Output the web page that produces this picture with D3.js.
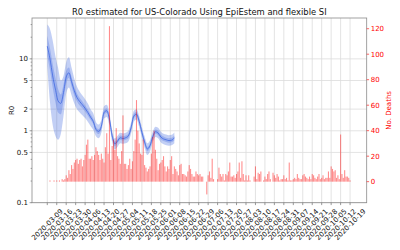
<!DOCTYPE html>
<html><head><meta charset="utf-8">
<script src="https://cdn.jsdelivr.net/npm/d3@7"></script>
<style>body{margin:0;background:#fff}svg{display:block;font-family:"DejaVu Sans",sans-serif}</style>
</head><body>
<svg id="c" width="400" height="250"></svg>
<script>
const title = "R0 estimated for US-Colorado Using EpiEstem and flexible SI";
const xTickLabels = ["2020-03-09","2020-03-16","2020-03-23","2020-03-30","2020-04-06","2020-04-13","2020-04-20","2020-04-27","2020-05-04","2020-05-11","2020-05-18","2020-05-25","2020-06-01","2020-06-08","2020-06-15","2020-06-22","2020-06-29","2020-07-06","2020-07-13","2020-07-20","2020-07-27","2020-08-03","2020-08-10","2020-08-17","2020-08-24","2020-08-31","2020-09-07","2020-09-14","2020-09-21","2020-09-28","2020-10-05","2020-10-12","2020-10-19"];
const leftTicks = [0.1,0.5,1,2,5,10];
const leftTickLabels = ["0.1","0.5","1","2","5","10"];
const leftMinor = [0.2,0.3,0.4,0.6,0.7,0.8,0.9,3,4,6,7,8,9,20,30];
const rightTicks = [0,20,40,60,80,100,120];

// R0 estimates, every 2 days from 2020-03-09
const rStart = "2020-03-09";
const rStepDays = 2;
const rMean = [15,10,5.8,3.8,2.6,2.4,3.4,5.6,6.4,4.8,3.6,2.9,2.55,2.3,2.05,1.8,1.55,1.35,1.05,0.98,1.15,1.8,1.9,1.45,0.85,0.66,0.72,0.8,0.78,0.8,0.85,1.1,1.6,1.7,1.35,0.95,0.7,0.56,0.62,0.82,0.97,0.93,0.82,0.77,0.75,0.73,0.74,0.8];
const rLo50 = [11,7,4.0,2.5,1.8,1.7,2.6,4.5,5.4,4.1,3.1,2.55,2.25,2.05,1.85,1.63,1.42,1.24,0.97,0.9,1.06,1.67,1.77,1.35,0.79,0.61,0.67,0.75,0.73,0.75,0.79,1.02,1.49,1.59,1.26,0.89,0.65,0.52,0.58,0.76,0.91,0.87,0.76,0.72,0.7,0.68,0.69,0.74];
const rHi50 = [21,14,8.5,5.5,3.8,3.2,4.4,6.8,7.6,5.6,4.1,3.3,2.85,2.55,2.25,1.97,1.7,1.47,1.14,1.06,1.25,1.95,2.05,1.56,0.92,0.71,0.77,0.86,0.84,0.86,0.91,1.18,1.72,1.82,1.45,1.02,0.75,0.6,0.67,0.88,1.04,1.0,0.88,0.83,0.8,0.79,0.8,0.86];
const rLo95 = [8,2.5,1.2,0.85,0.75,0.9,1.6,3.3,4.0,3.1,2.4,2.0,1.8,1.65,1.5,1.34,1.17,1.03,0.84,0.79,0.94,1.48,1.56,1.19,0.7,0.55,0.6,0.67,0.66,0.67,0.71,0.92,1.34,1.43,1.13,0.8,0.58,0.46,0.52,0.69,0.82,0.79,0.69,0.65,0.63,0.62,0.63,0.67];
const rHi95 = [30,26,18,11,7.5,5.0,5.8,9.0,10.5,7.5,5.3,4.1,3.5,3.1,2.75,2.4,2.0,1.75,1.33,1.22,1.42,2.2,2.3,1.75,1.02,0.78,0.85,0.94,0.92,0.94,1.0,1.3,1.9,2.0,1.6,1.12,0.83,0.67,0.74,0.97,1.14,1.1,0.97,0.91,0.89,0.87,0.88,0.95];

// daily deaths from 2020-03-11
const deathStart = "2020-03-11";
const deaths = [1,0,0,1,0,1,0,1,0,2, 1,2,5,3,9,6,13,10,15,17, 18,14,17,18,12,17,21,29,33,18, 18,20,17,21,27,24,21,17,22,18,
 15,27,38,22,122,17,28,33,25,42, 20,18,14,24,52,14,14,10,13,18, 10,16,24,33,64,40,30,22,21,33, 13,11,8,10,12,22,35,40,25,18,
 9,14,15,17,20,12,8,12,10,17, 20,6,12,10,8,5,13,14,6,6, 5,4,8,13,10,6,4,4,8,6, 5,
 6,4,4,0,0,-10,5,8,3,18, 2,0,0,2,11,6,4,6,1,6, 5,8,15,4,4,5,3,6,8,15, 3,16,6,1,5,1,5,1,0,0,
 4,12,2,7,6,8,0,1,4,2, 6,8,2,0,7,5,3,6,4,1, 2,2,5,2,3,1,15,1,1,2, 3,2,6,3,2,2,5,6,4,3,
 2,4,2,6,5,3,2,4,6,2, 3,5,2,3,3,8,3,12,10,8, 9,3,5,2,37,6,3,9,4,4, 3,1];

const DAY = 864e5;
const parse = d3.utcParse("%Y-%m-%d");
const svg = d3.select("#c");
const L = 32, R = 366.7, T = 18, B = 202.7;

const x = d3.scaleUtc().domain([new Date(parse("2020-03-09").getTime() - 11.3*DAY), new Date(parse("2020-10-19").getTime() + 12.3*DAY)]).range([L, R]);
const yL = d3.scaleLog().domain([0.1, 37]).range([B, T]);
const yR = d3.scaleLinear().domain([-16.5, 128.4]).range([B, T]);

const tickDates = xTickLabels.map(parse);
const rData = rMean.map((m,i)=>({date:new Date(parse(rStart).getTime()+i*rStepDays*DAY), m, lo50:rLo50[i], hi50:rHi50[i], lo95:rLo95[i], hi95:rHi95[i]}));
const dData = deaths.map((v,i)=>({date:new Date(parse(deathStart).getTime()+i*DAY), v}));

// grid
const g = svg.append("g");
g.selectAll(".vg").data(tickDates).join("line").attr("x1",d=>x(d)).attr("x2",d=>x(d)).attr("y1",T).attr("y2",B).attr("stroke","#dcdcdc").attr("stroke-width",0.8);
g.selectAll(".hg").data(leftTicks).join("line").attr("x1",L).attr("x2",R).attr("y1",d=>yL(d)).attr("y2",d=>yL(d)).attr("stroke","#dcdcdc").attr("stroke-width",0.8);

// R0 bands
svg.append("clipPath").attr("id","clip").append("rect").attr("x",L).attr("y",T).attr("width",R-L).attr("height",B-T);
const pg = svg.append("g").attr("clip-path","url(#clip)");
const curve = d3.curveMonotoneX;
pg.append("path").datum(rData).attr("d", d3.area().x(d=>x(d.date)).y0(d=>yL(d.lo95)).y1(d=>yL(d.hi95)).curve(curve)).attr("fill","royalblue").attr("fill-opacity",0.32);
pg.append("path").datum(rData).attr("d", d3.area().x(d=>x(d.date)).y0(d=>yL(d.lo50)).y1(d=>yL(d.hi50)).curve(curve)).attr("fill","royalblue").attr("fill-opacity",0.3);
pg.append("path").datum(rData).attr("d", d3.line().x(d=>x(d.date)).y(d=>yL(d.m)).curve(curve)).attr("fill","none").attr("stroke","royalblue").attr("stroke-opacity",0.8).attr("stroke-width",1);

// deaths bars
const bw = x(new Date(parse(deathStart).getTime()+0.8*DAY)) - x(parse(deathStart));
pg.selectAll(".bar").data(dData.filter(d=>d.v!==0)).join("rect")
  .attr("x",d=>x(d.date)-bw/2).attr("width",bw)
  .attr("y",d=>yR(Math.max(0,d.v))).attr("height",d=>Math.abs(yR(d.v)-yR(0)))
  .attr("fill","red").attr("fill-opacity",0.45);

// spines
svg.append("rect").attr("x",L).attr("y",T).attr("width",R-L).attr("height",B-T).attr("fill","none").attr("stroke","#8a8a8a").attr("stroke-width",0.8);

// left axis ticks
const ax = svg.append("g").attr("font-size",7);
ax.selectAll(".lt").data(leftTicks).join("line").attr("x1",L-2.4).attr("x2",L).attr("y1",d=>yL(d)).attr("y2",d=>yL(d)).attr("stroke","#555").attr("stroke-width",0.6);
ax.selectAll(".lm").data(leftMinor).join("line").attr("x1",L-1.4).attr("x2",L).attr("y1",d=>yL(d)).attr("y2",d=>yL(d)).attr("stroke","#555").attr("stroke-width",0.5);
ax.selectAll(".ll").data(leftTicks).join("text").attr("x",L-4).attr("y",d=>yL(d)).attr("dy","0.35em").attr("text-anchor","end").attr("fill","#111").text((d,i)=>leftTickLabels[i]);
ax.append("text").attr("transform",`translate(12,${(T+B)/2}) rotate(-90)`).attr("text-anchor","middle").attr("dy","0.35em").attr("fill","#111").text("R0");

// right axis
ax.selectAll(".rt").data(rightTicks).join("line").attr("x1",R).attr("x2",R+2.4).attr("y1",d=>yR(d)).attr("y2",d=>yR(d)).attr("stroke","red").attr("stroke-width",0.6);
ax.selectAll(".rl").data(rightTicks).join("text").attr("x",R+4).attr("y",d=>yR(d)).attr("dy","0.35em").attr("fill","red").text(d=>d);
ax.append("text").attr("transform",`translate(389,${(T+B)/2}) rotate(-90)`).attr("text-anchor","middle").attr("dy","0.35em").attr("fill","red").text("No. Deaths");

// x axis
ax.selectAll(".xt").data(tickDates).join("line").attr("x1",d=>x(d)).attr("x2",d=>x(d)).attr("y1",B).attr("y2",B+2.4).attr("stroke","#555").attr("stroke-width",0.6);
ax.selectAll(".xl").data(tickDates).join("text").attr("transform",d=>`translate(${x(d)},224.5) rotate(-45)`).attr("text-anchor","middle").attr("dy","0.35em").attr("fill","#111").text((d,i)=>xTickLabels[i]);

// title
svg.append("text").attr("x",(L+R)/2).attr("y",14.5).attr("text-anchor","middle").attr("font-size",8.4).attr("fill","#111").text(title);
</script>
</body></html>
